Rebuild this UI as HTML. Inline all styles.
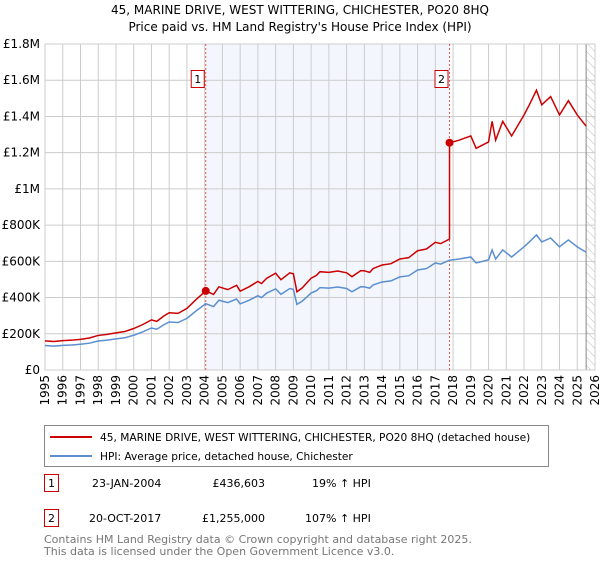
<!DOCTYPE html>
<html><head><meta charset="utf-8"><style>
body{margin:0;background:#fff;width:600px;height:560px;overflow:hidden;font-family:"DejaVu Sans","Liberation Sans",sans-serif;}
svg text{font-family:"DejaVu Sans","Liberation Sans",sans-serif;}
</style></head><body>
<svg id="chart" width="600" height="560">
<defs><pattern id="hatch" width="6" height="6" patternUnits="userSpaceOnUse" patternTransform="rotate(-45)"><line x1="0" y1="0" x2="0" y2="6" stroke="#bbb" stroke-width="1"/></pattern></defs>
<text x="300" y="14" text-anchor="middle" font-size="12">45, MARINE DRIVE, WEST WITTERING, CHICHESTER, PO20 8HQ</text>
<text x="300" y="31" text-anchor="middle" font-size="12">Price paid vs. HM Land Registry's House Price Index (HPI)</text>
<g id="plot"></g>
<g>
<rect x="44.5" y="425.5" width="504" height="41" fill="#fff" stroke="#888"/>
<line x1="50" y1="437" x2="92" y2="437" stroke="#cc0000" stroke-width="2"/>
<text x="100" y="441" font-size="10.6">45, MARINE DRIVE, WEST WITTERING, CHICHESTER, PO20 8HQ (detached house)</text>
<line x1="50" y1="456" x2="92" y2="456" stroke="#5b8fd0" stroke-width="2"/>
<text x="100" y="460" font-size="10.6">HPI: Average price, detached house, Chichester</text>
</g>
<g font-size="11">
<rect x="44.5" y="474.5" width="14" height="17" fill="#fff" stroke="#cc0000"/><text x="51.5" y="487" text-anchor="middle">1</text>
<text x="92" y="487">23-JAN-2004</text><text x="265" y="487" text-anchor="end">£436,603</text><text x="312" y="487">19% ↑ HPI</text>
<rect x="44.5" y="509.5" width="14" height="17" fill="#fff" stroke="#cc0000"/><text x="51.5" y="522" text-anchor="middle">2</text>
<text x="89" y="522">20-OCT-2017</text><text x="265" y="522" text-anchor="end">£1,255,000</text><text x="305" y="522">107% ↑ HPI</text>
</g>
<text x="44" y="543" font-size="11" fill="#777">Contains HM Land Registry data © Crown copyright and database right 2025.</text>
<text x="44" y="555" font-size="11" fill="#777">This data is licensed under the Open Government Licence v3.0.</text>
</svg>
<script>
const yearTicks=[1995,1996,1997,1998,1999,2000,2001,2002,2003,2004,2005,2006,2007,2008,2009,2010,2011,2012,2013,2014,2015,2016,2017,2018,2019,2020,2021,2022,2023,2024,2025,2026];
const priceTicks=[0,200000,400000,600000,800000,1000000,1200000,1400000,1600000,1800000];
const priceTickLabels=["£0","£200K","£400K","£600K","£800K","£1M","£1.2M","£1.4M","£1.6M","£1.8M"];
const hpiDates=[1995,1995.5,1996,1996.5,1997,1997.5,1998,1998.5,1999,1999.5,2000,2000.5,2001,2001.3,2001.7,2002,2002.5,2003,2003.5,2004.06,2004.5,2004.8,2005.3,2005.8,2006,2006.5,2007,2007.2,2007.5,2008,2008.3,2008.8,2009,2009.2,2009.5,2010,2010.3,2010.5,2011,2011.5,2012,2012.3,2012.8,2013,2013.3,2013.5,2014,2014.5,2015,2015.5,2016,2016.5,2017,2017.3,2017.8,2018.3,2019,2019.3,2020,2020.2,2020.4,2020.8,2021.3,2022,2022.3,2022.7,2023,2023.5,2024,2024.5,2025,2025.5];
const hpiValues=[135000,132000,136000,138000,142000,148000,160000,165000,172000,178000,192000,210000,232000,225000,250000,265000,262000,285000,325000,366000,350000,385000,372000,392000,365000,385000,410000,400000,425000,448000,418000,450000,445000,362000,380000,425000,438000,455000,452000,458000,450000,432000,460000,459000,452000,470000,486000,492000,514000,520000,552000,560000,591000,585000,606000,612000,624000,591000,608000,663000,613000,663000,624000,680000,707000,746000,707000,729000,680000,718000,680000,650000];
const saleDates=[2004.06,2017.8];
const salePrices=[436603,1255000];
const saleLabels=["1","2"];

const NS="http://www.w3.org/2000/svg";
const g=document.getElementById('plot');
const L=45,R=595,T=44,B=370;
const x=d=>L+(d-1995)/(2026-1995)*(R-L);
const y=v=>B-v/1800000*(B-T);
function mk(tag,attrs){const e=document.createElementNS(NS,tag);for(const k in attrs)e.setAttribute(k,attrs[k]);g.appendChild(e);return e;}
let e=mk('rect',{x:x(saleDates[0]),y:T,width:x(saleDates[1])-x(saleDates[0]),height:B-T,fill:'#eef3fc',opacity:0.7});


e=mk('rect',{x:x(2025.5),y:T,width:R-x(2025.5),height:B-T,fill:'url(#hatch)'});


priceTicks.forEach((v,i)=>{
  e=mk('line',{x1:L,x2:R,y1:y(v),y2:y(v),stroke:'#ccc'});
  
  
  e=mk('text',{x:L-5,y:y(v)+4,'text-anchor':'end','font-size':12});
  e.textContent=priceTickLabels[i];
  
  
});
yearTicks.forEach(d=>{
  e=mk('line',{x1:x(d),x2:x(d),y1:T,y2:B,stroke:'#ccc'});
  
  
  e=mk('text',{x:0,y:0,'text-anchor':'end','font-size':12,transform:`translate(${x(d)+4},${B+5}) rotate(-90)`});
  e.textContent=d;
  
  
});
e=mk('line',{x1:x(2025.5),x2:x(2025.5),y1:T,y2:B,stroke:'#888'});


e=mk('rect',{x:L,y:T,width:R-L,height:B-T,fill:'none',stroke:'#ccc'});


saleDates.forEach((d,i)=>{
  e=mk('line',{x1:x(d),x2:x(d),y1:T,y2:B,stroke:'#e55',"stroke-dasharray":"2,2"});
  
  
});
function interp(d){for(let i=1;i<hpiDates.length;i++){if(d<=hpiDates[i]){const t=(d-hpiDates[i-1])/(hpiDates[i]-hpiDates[i-1]);return hpiValues[i-1]+t*(hpiValues[i]-hpiValues[i-1]);}}return hpiValues[hpiValues.length-1];}
e=mk('polyline',{points:hpiDates.map((d,i)=>x(d)+','+y(hpiValues[i])).join(' '),fill:'none',stroke:'#5b8fd0','stroke-width':1.5});


const r0=salePrices[0]/interp(saleDates[0]), r1=salePrices[1]/interp(saleDates[1]);
let pts=[];
hpiDates.forEach((d,i)=>{ if(d<saleDates[1]) pts.push(x(d)+','+y(hpiValues[i]*r0)); });
pts.push(x(saleDates[1])+','+y(interp(saleDates[1])*r0));
pts.push(x(saleDates[1])+','+y(salePrices[1]));
hpiDates.forEach((d,i)=>{ if(d>saleDates[1]) pts.push(x(d)+','+y(hpiValues[i]*r1)); });
e=mk('polyline',{points:pts.join(' '),fill:'none',stroke:'#cc0000','stroke-width':1.5});


saleDates.forEach((d,i)=>{
  e=mk('circle',{cx:x(d),cy:y(salePrices[i]),r:4,fill:'#cc0000'});
  
  
  e=mk('rect',{x:x(d)-14.5,y:70.5,width:13,height:17,fill:'#fff',stroke:'#cc0000'});
  
  
  e=mk('text',{x:x(d)-8,y:83,'text-anchor':'middle','font-size':11});
  e.textContent=saleLabels[i];
  
  
});
</script>
</body></html>
